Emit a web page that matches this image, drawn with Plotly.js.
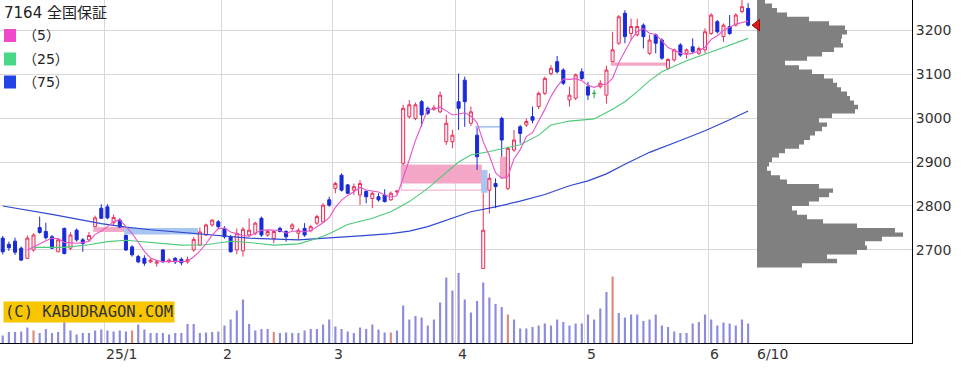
<!DOCTYPE html>
<html><head><meta charset="utf-8">
<script src="https://cdn.plot.ly/plotly-3.0.1.min.js"></script>
<style>body{margin:0;background:#fff}#c{width:968px;height:372px}</style>
</head><body><div id="c"></div>
<script>
// ---- data ----
const title = '7164 全国保証';
const lastDateLabel = '6/10';
// first trading-day index of each month and its label
const monthStartIdx = [17, 36, 54, 74, 95, 115];
const monthLabels = ['25/1', '2', '3', '4', '5', '6'];

const open = [
2727,2713,2720,2704,2681,2700,2751,2742,2730,2696,
2749,2704,2745,2723,2723,2753,2795,2798,2762,2768,
2733,2707,2685,2681,2673,2670,2700,2673,2681,2679,
2673,2700,2711,2734,2757,2764,2749,2730,2700,2698,
2734,2738,2772,2734,2726,2749,2742,2749,2738,2749,
2744,2761,2764,2814,2840,2870,2848,2836,2825,2833,
2817,2821,2825,2814,2832,2897,3003,2999,3037,3022,
3020,3014,2946,2946,3037,3086,2988,2961,2658,2836,
2851,2999,2840,2927,2980,2984,3003,3026,3056,3101,
3128,3109,3041,3045,3105,3071,3056,3071,3052,3128,
3170,3238,3192,3189,3211,3147,3189,3177,3113,3132,
3166,3147,3162,3147,3155,3192,3219,3185,3208,3211,
3242,3249];
const high = [
2732,2719,2728,2708,2733,2738,2776,2762,2734,2727,
2751,2740,2749,2727,2741,2778,2804,2804,2781,2772,
2735,2711,2689,2688,2681,2675,2702,2681,2684,2683,
2685,2729,2751,2760,2770,2768,2754,2734,2749,2752,
2772,2764,2776,2745,2744,2753,2745,2761,2749,2761,
2757,2780,2806,2821,2855,2874,2850,2851,2859,2836,
2833,2829,2838,2833,2836,3030,3041,3035,3041,3026,
3030,3060,3007,2973,3101,3094,3026,2978,2830,2874,
2863,3003,2935,2973,2984,2999,3026,3060,3094,3120,
3141,3113,3071,3101,3113,3082,3064,3086,3119,3196,
3234,3245,3226,3226,3215,3189,3192,3181,3136,3158,
3170,3158,3181,3162,3204,3238,3223,3215,3234,3238,
3268,3261];
const low = [
2690,2698,2689,2675,2680,2696,2737,2724,2702,2695,
2690,2700,2719,2696,2720,2752,2771,2770,2757,2750,
2698,2685,2670,2664,2670,2662,2671,2670,2668,2665,
2669,2696,2709,2732,2753,2749,2726,2694,2690,2685,
2730,2734,2730,2730,2715,2740,2719,2744,2723,2730,
2740,2757,2762,2798,2829,2833,2827,2825,2802,2806,
2795,2810,2808,2812,2826,2893,2999,2995,2980,3007,
3016,3011,2939,2931,2973,2980,2982,2882,2658,2783,
2795,2912,2836,2923,2942,2980,2988,3020,3052,3097,
3101,3075,3026,3041,3086,3041,3045,3067,3033,3126,
3166,3170,3177,3185,3158,3143,3147,3132,3109,3128,
3139,3135,3147,3143,3147,3189,3192,3173,3189,3208,
3238,3208];
const close = [
2696,2705,2695,2677,2727,2734,2740,2728,2704,2723,
2692,2734,2723,2715,2733,2773,2772,2773,2774,2752,
2700,2689,2673,2670,2677,2673,2673,2677,2673,2671,
2678,2724,2741,2757,2768,2753,2730,2696,2738,2747,
2745,2761,2734,2742,2742,2742,2730,2757,2745,2734,
2753,2776,2802,2802,2851,2836,2829,2844,2851,2821,
2829,2814,2810,2829,2834,3022,3030,3030,3007,3011,
3023,3052,2988,2961,3022,3037,3014,2912,2745,2863,
2844,2950,2931,2950,2965,2992,2995,3056,3090,3113,
3105,3079,3052,3098,3090,3052,3056,3079,3109,3155,
3230,3185,3208,3208,3185,3177,3170,3136,3133,3155,
3143,3155,3151,3158,3196,3234,3196,3211,3192,3234,
3253,3211];
// volume, thousand shares
const volume = [
15,22,22,23,31,25,20,28,20,22,
83,25,17,20,20,25,27,25,23,25,
23,25,37,27,20,20,20,17,20,20,
38,38,20,21,22,23,35,47,65,87,
38,25,28,28,22,20,21,20,20,25,
28,28,37,47,33,28,23,20,31,28,
37,27,21,21,25,75,47,54,51,35,
47,81,131,105,140,87,61,84,121,91,
78,72,57,47,29,29,32,35,39,35,
47,42,35,39,39,57,47,69,102,133,
60,51,57,57,44,47,57,35,32,23,
20,20,39,42,57,47,35,41,39,35,
47,39];
// days whose volume bar is drawn in red on the original
const volFlagDays = [5, 21, 44, 63, 82, 99];

// 25-day and 75-day moving averages, read at sample days
const ma25Idx = [5,10,14,17,20,25,29,33,37,40,44,48,51,53,56,60,63,66,69,74,76,79,84,87,89,92,96,99,101,103,105,107,111,116,121];
const ma25Val = [2706,2706,2712,2719,2722,2716,2711,2712,2720,2717,2711,2714,2726,2737,2758,2772,2787,2810,2840,2900,2916,2924,2939,2961,2984,2993,2998,3020,3037,3060,3085,3105,3130,3155,3181];
const ma75Idx = [0,8,16,20,24,32,40,48,53,58,63,66,69,72,76,80,84,88,92,95,98,101,105,110,114,118,121];
const ma75Val = [2800,2781,2760,2752,2746,2737,2727,2723,2727,2732,2737,2743,2753,2767,2787,2798,2811,2826,2846,2857,2873,2895,2922,2949,2971,2996,3016];

// price gaps (窓): day the gap opened, day it was closed, remaining open edge
const gapDay = [15, 20, 65, 77, 78, 81, 99];
const gapEndDay = [20, 32, 78, 81, 79, 82, 108];
const gapRemainLow = [null, null, 2851, null, null, null, null];

// price-by-volume profile: bin floor prices (10 yen bins) and relative volume
const profLevels = [2660,2670,2680,2690,2700,2710,2720,2730,2740,2750,
2760,2770,2780,2790,2800,2810,2820,2830,2840,2850,
2860,2870,2880,2890,2900,2910,2920,2930,2940,2950,
2960,2970,2980,2990,3000,3010,3020,3030,3040,3050,
3060,3070,3080,3090,3100,3110,3120,3130,3140,3150,
3160,3170,3180,3190,3200,3210,3220,3230,3240,3250,3260];
const profVol = [45,80,70,100,110,108,125,146,138,100,
66,50,40,35,52,62,72,76,62,30,
23,14,10,12,15,22,28,42,47,53,
58,65,70,62,75,98,101,97,93,90,
84,80,76,67,55,42,28,50,65,77,
86,84,85,90,88,72,52,30,20,15,8];
const profBin = 10;

const maLabels = ['（5）', '（25）', '（75）'];
const yTicks = [2700, 2800, 2900, 3000, 3100, 3200];

// ---- geometry / styles ----
const W = 968, H = 372, MR = 56, MB = 29;
const PW = W - MR, PH = H - MB;
const pxX = p => p / PW, pxY = p => 1 - p / PH;
const C_UP = '#e8305a', C_DN = '#1a2ad6', C_DOJI = '#20a040';
const C_MA = ['#e655c8', '#4cc97a', '#2f48d0'];
const C_LEG = ['#f048c8', '#48d888', '#2244e6'];

const N = close.length;
const idx = close.map((_, i) => i);
const problems = [];
[open, high, low, volume].forEach((a, k) => { if (a.length !== N) problems.push('len' + k + '=' + a.length); });
if (profVol.length !== profLevels.length) problems.push('prof');
if (ma25Idx.length !== ma25Val.length || ma75Idx.length !== ma75Val.length) problems.push('ma');

// 5-day moving average from closes
const ma5 = close.map((_, i) => i < 4 ? null : (close[i]+close[i-1]+close[i-2]+close[i-3]+close[i-4]) / 5);

const isDoji = idx.map(i => open[i] === close[i]);
const pick = (arr, want) => idx.filter(i => isDoji[i] === want).map(i => arr[i]);

const data = [];
data.push({
  type: 'bar', x: idx, y: volume, xaxis: 'x', yaxis: 'y2', width: 0.35,
  marker: { color: idx.map(i => volFlagDays.includes(i) ? '#dc8a7c' : '#8c8cdc'), line: { width: 0 } },
  hoverinfo: 'skip', showlegend: false
});
data.push({ type: 'scatter', mode: 'lines', x: ma75Idx, y: ma75Val, line: { color: C_MA[2], width: 1.2 }, hoverinfo: 'skip', showlegend: false });
data.push({ type: 'scatter', mode: 'lines', x: ma25Idx, y: ma25Val, line: { color: C_MA[1], width: 1.1 }, hoverinfo: 'skip', showlegend: false });
data.push({
  type: 'candlestick', x: pick(idx, false), open: pick(open, false), high: pick(high, false),
  low: pick(low, false), close: pick(close, false), whiskerwidth: 0,
  increasing: { line: { color: C_UP, width: 1 }, fillcolor: '#fdeaf0' },
  decreasing: { line: { color: C_DN, width: 1 }, fillcolor: C_DN },
  hoverinfo: 'skip', showlegend: false
});
data.push({
  type: 'candlestick', x: pick(idx, true), open: pick(open, true), high: pick(high, true),
  low: pick(low, true), close: pick(close, true), whiskerwidth: 0,
  increasing: { line: { color: C_DOJI, width: 1 }, fillcolor: C_DOJI },
  decreasing: { line: { color: C_DOJI, width: 1 }, fillcolor: C_DOJI },
  hoverinfo: 'skip', showlegend: false
});
data.push({ type: 'scatter', mode: 'lines', x: idx, y: ma5, line: { color: C_MA[0], width: 1.1 }, hoverinfo: 'skip', showlegend: false, connectgaps: false });
// volume profile as a stepped filled area (each bin spans its 10-yen band)
data.push({
  type: 'scatter', mode: 'lines', xaxis: 'x3', yaxis: 'y',
  x: profVol.concat([profVol[profVol.length - 1]]),
  y: profLevels.concat([profLevels[profLevels.length - 1] + profBin]),
  line: { shape: 'vh', width: 0, color: '#808080' }, fill: 'tozerox', fillcolor: '#808080',
  hoverinfo: 'skip', showlegend: false
});
data.push({
  type: 'scatter', mode: 'markers', x: [0], y: [close[N - 1]], xaxis: 'x3', yaxis: 'y', cliponaxis: false,
  marker: { symbol: 'triangle-left', size: 10, color: '#e01818', line: { color: '#901010', width: 1 } },
  hoverinfo: 'skip', showlegend: false
});

// gap shapes computed from the candles
const shapes = [];
gapDay.forEach((d, k) => {
  const up = low[d] >= high[d - 1];
  const lo = up ? high[d - 1] : high[d];
  const hi = up ? low[d] : low[d - 1];
  const fill = up ? '#f4a6c6' : '#a9c6f2';
  const x0 = d - 0.3, x1 = gapEndDay[k] - 0.3;
  if (gapRemainLow[k] != null) {
    shapes.push({ type: 'rect', xref: 'x', yref: 'y', x0, x1, y0: lo, y1: hi, layer: 'between', fillcolor: 'rgba(0,0,0,0)', line: { color: '#f4a6c6', width: 1 } });
    shapes.push({ type: 'rect', xref: 'x', yref: 'y', x0, x1, y0: gapRemainLow[k], y1: hi, layer: 'between', fillcolor: fill, line: { width: 0 } });
  } else {
    shapes.push({ type: 'rect', xref: 'x', yref: 'y', x0, x1, y0: lo, y1: hi, layer: 'between', fillcolor: fill, line: { width: 0 } });
  }
});
// legend swatches
const legY = [35.5, 59, 82];
legY.forEach((cy, k) => {
  shapes.push({ type: 'rect', xref: 'paper', yref: 'paper', x0: pxX(4), x1: pxX(16), y0: pxY(cy - 6.5), y1: pxY(cy + 6.5), fillcolor: C_LEG[k], line: { width: 0 } });
});

const FONT = 'DejaVu Sans, Noto Sans CJK JP, sans-serif';
const annotations = [];
annotations.push({ xref: 'paper', yref: 'paper', x: pxX(2), y: pxY(12.5), xanchor: 'left', yanchor: 'middle', showarrow: false, text: title, font: { family: FONT, size: 15, color: '#222' } });
legY.forEach((cy, k) => annotations.push({ xref: 'paper', yref: 'paper', x: pxX(21), y: pxY(cy), xanchor: 'left', yanchor: 'middle', showarrow: false, text: maLabels[k], font: { family: FONT, size: 14, color: '#222' } }));
annotations.push({ xref: 'paper', yref: 'paper', x: pxX(3), y: pxY(312), xanchor: 'left', yanchor: 'middle', showarrow: false, text: '(C) KABUDRAGON.COM', bgcolor: '#f7c600', borderpad: 1, font: { family: 'DejaVu Sans Mono, monospace', size: 15.5, color: '#333' } });
monthStartIdx.forEach((m, k) => annotations.push({ xref: 'x', yref: 'paper', x: m - 0.5, y: 0, xanchor: 'left', yanchor: 'top', xshift: 0, yshift: -1, showarrow: false, text: monthLabels[k], font: { family: FONT, size: 14, color: '#333' } }));
annotations.push({ xref: 'x3', yref: 'paper', x: 0, y: 0, xanchor: 'left', yanchor: 'top', xshift: -2, yshift: -1, showarrow: false, text: lastDateLabel, font: { family: FONT, size: 14, color: '#333' } });
if (problems.length) annotations.push({ xref: 'paper', yref: 'paper', x: 0.5, y: 0.5, showarrow: false, text: 'DATA ' + problems.join(','), font: { size: 20, color: 'red' } });

const layout = {
  width: W, height: H, margin: { l: 0, r: MR, t: 0, b: MB, pad: 0 },
  paper_bgcolor: '#fff', plot_bgcolor: 'rgba(0,0,0,0)', showlegend: false, hovermode: false,
  xaxis: {
    range: [-0.44, 147.6], tickmode: 'array', tickvals: monthStartIdx.map(m => m - 0.5), showticklabels: false, ticks: '',
    showgrid: true, gridcolor: '#d8d8d8', gridwidth: 1, zeroline: false, showline: true, linecolor: '#000', linewidth: 1,
    rangeslider: { visible: false }, fixedrange: true
  },
  xaxis3: { domain: [757 / PW, 1], anchor: 'y', range: [0, 155], visible: false, fixedrange: true },
  yaxis: {
    side: 'right', range: [2488.6, 3268.2], tickmode: 'array', tickvals: yTicks, ticktext: yTicks.map(String),
    ticks: 'inside', ticklen: 5, tickcolor: '#000', showline: true, linecolor: '#000', linewidth: 1,
    showgrid: true, gridcolor: '#d8d8d8', gridwidth: 1, zeroline: false,
    tickfont: { family: FONT, size: 14, color: '#333' }, fixedrange: true
  },
  yaxis2: { overlaying: 'y', anchor: 'x', range: [0, 686], visible: false, fixedrange: true },
  shapes, annotations
};
Plotly.newPlot('c', data, layout, { staticPlot: true });
</script></body></html>
